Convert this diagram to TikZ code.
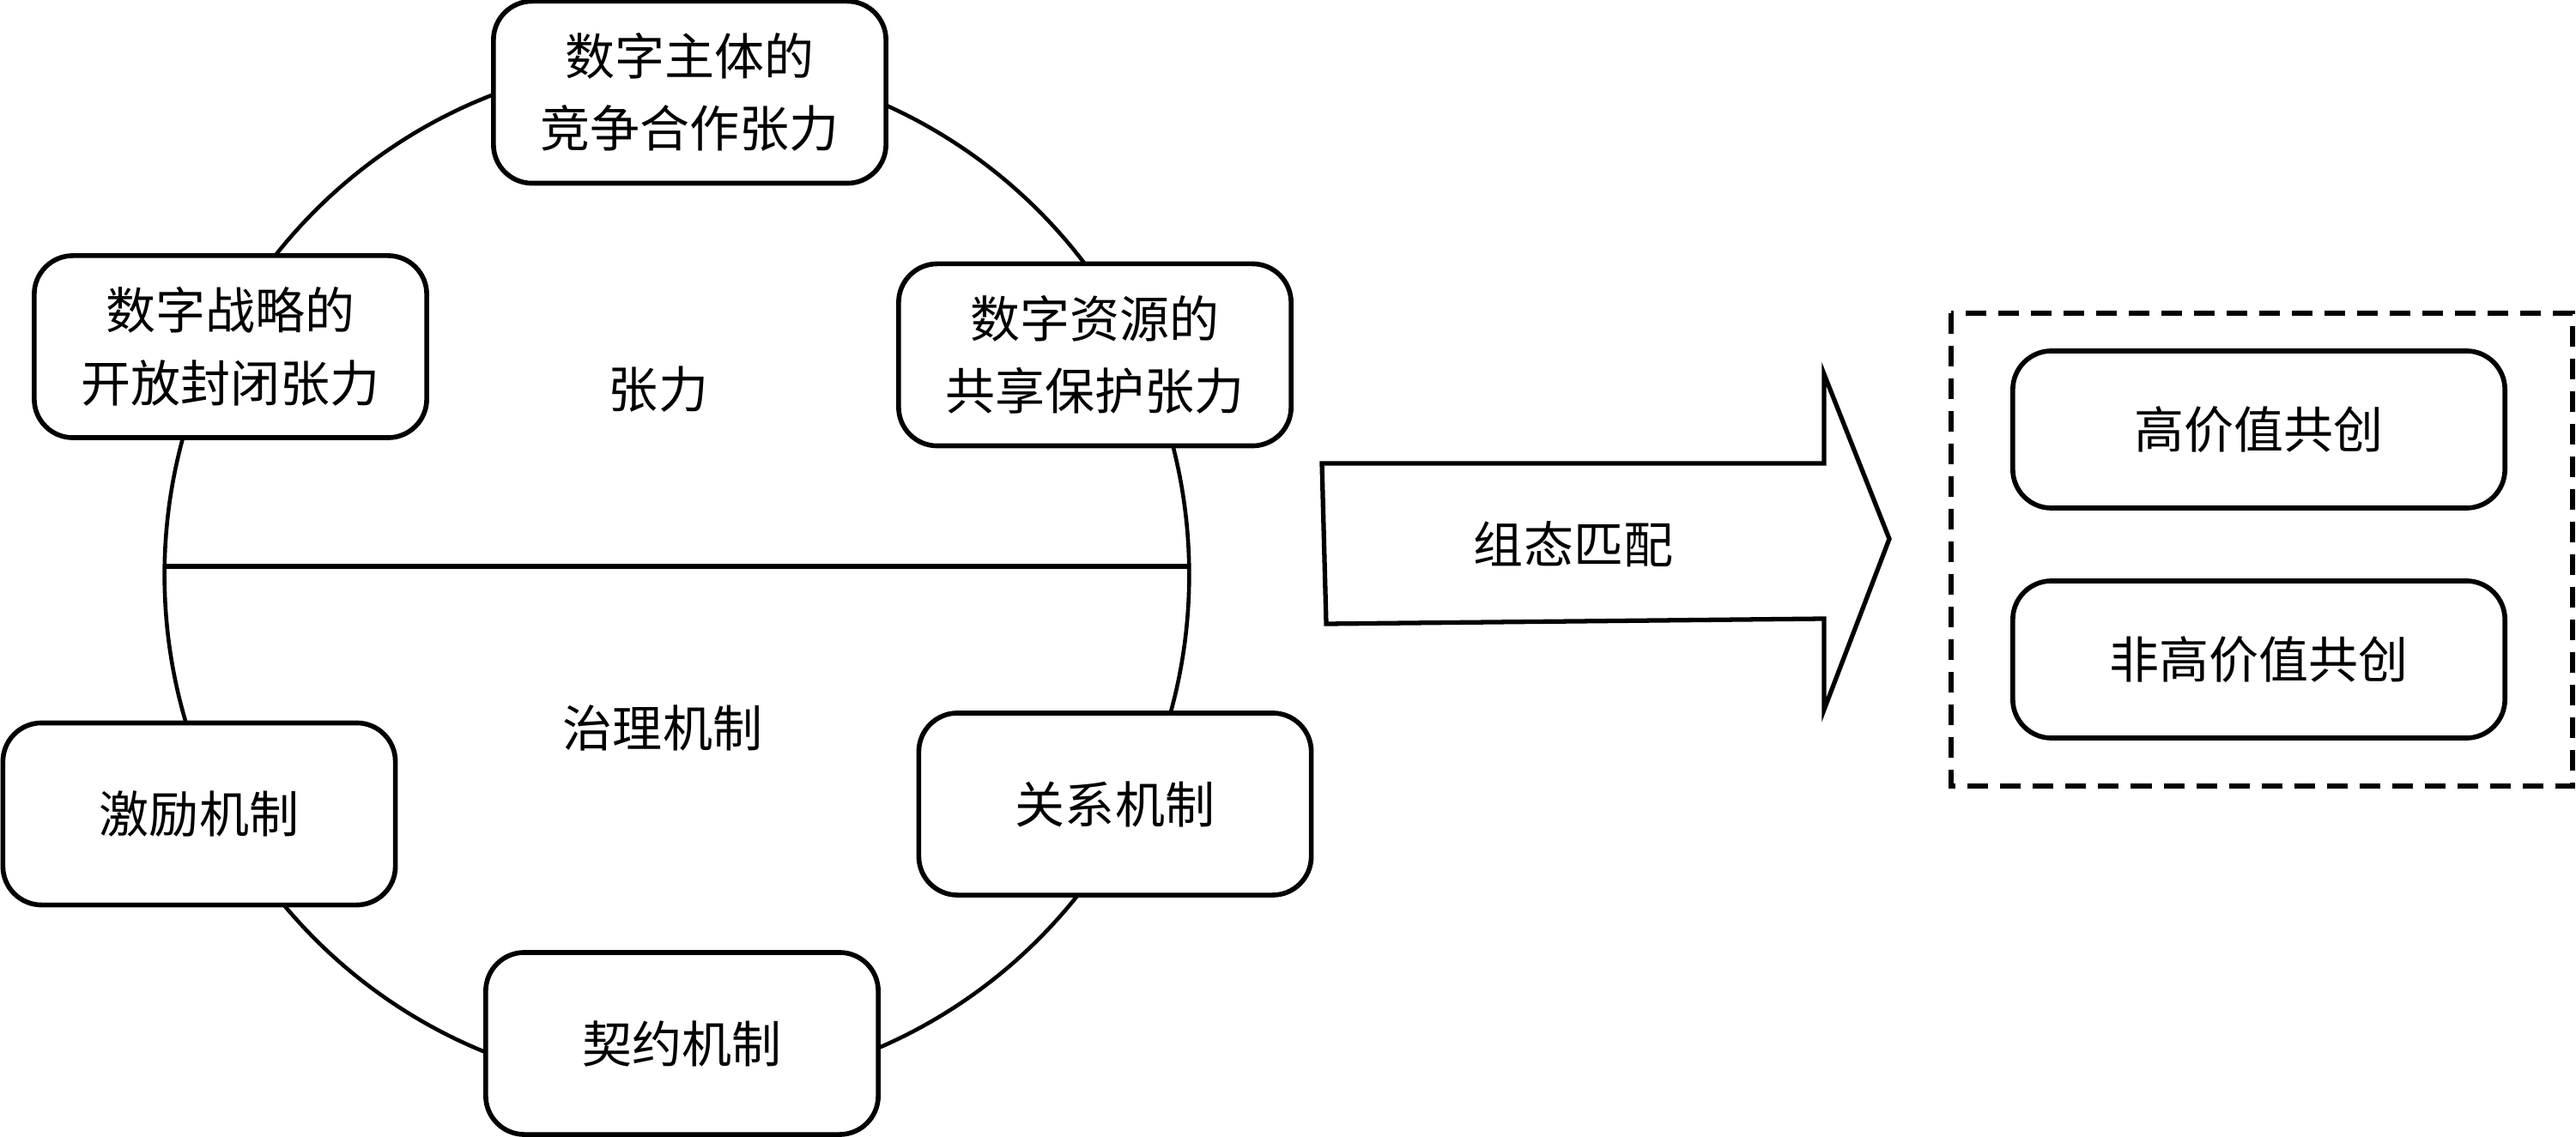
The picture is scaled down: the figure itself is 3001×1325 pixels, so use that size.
\documentclass[tikz,border=0pt]{standalone}
\usepackage{fontspec}
\newfontfamily\cjk{Noto Sans CJK SC}
\begin{document}
\begin{tikzpicture}[x=0.01cm,y=-0.01cm,
  txt/.style={font=\cjk\fontsize{16.5pt}{24pt}\selectfont, align=center, inner sep=0pt},
  rbox/.style={txt, draw, line width=1.6pt, fill=white, rounded corners=0.45cm, minimum width=4.57cm, minimum height=2.12cm},
  wbox/.style={txt, draw, line width=1.6pt, fill=white, rounded corners=0.45cm, minimum width=5.73cm, minimum height=1.83cm},
  ring/.style={line width=1.3pt},
  bigarrow/.style={line width=1.5pt, line join=miter, fill=white},
  dashbox/.style={line width=1.6pt, dash pattern=on 0.24cm off 0.14cm}
]
\useasboundingbox (0,0) rectangle (3001,1325);
% circle and dividing line
\draw[ring] (788.5,670) ellipse [x radius=5.965cm, y radius=5.99cm];
\coordinate (hl) at (192.1,660);
\coordinate (hr) at (1384.9,660);
\draw[line width=1.5pt] (hl) -- (hr);
% labels inside circle
\node[txt] (zl) at (767,454) {张力};
\node[txt] (gz) at (772,848) {治理机制};
% tension boxes
\node[rbox] (n1) at (803.5,107.5) {数字主体的\\竞争合作张力};
\node[rbox] (n2) at (268.5,404) {数字战略的\\开放封闭张力};
\node[rbox] (n3) at (1275.5,413.5) {数字资源的\\共享保护张力};
% mechanism boxes
\node[rbox] (m1) at (232,948.5) {激励机制};
\node[rbox] (m2) at (1299,937) {关系机制};
\node[rbox] (m3) at (794.5,1216) {契约机制};
% big arrow
\coordinate (a1) at (1540,540);
\coordinate (a2) at (2125,540);
\coordinate (a3) at (2125,436);
\coordinate (a4) at (2201,628);
\coordinate (a5) at (2125,827);
\coordinate (a6) at (2125,721);
\coordinate (a7) at (1545,727);
\draw[bigarrow] (a1) -- (a2) -- (a3) -- (a4) -- (a5) -- (a6) -- (a7) -- cycle;
\node[txt] (zt) at (1833,634) {组态匹配};
% outcome group
\coordinate (d1) at (2273,365);
\coordinate (d2) at (2997,916);
\draw[dashbox] (d1) rectangle (d2);
\node[wbox] (r1) at (2631.5,500.5) {高价值共创};
\node[wbox] (r2) at (2631.5,768.5) {非高价值共创};
\end{tikzpicture}
\end{document}
